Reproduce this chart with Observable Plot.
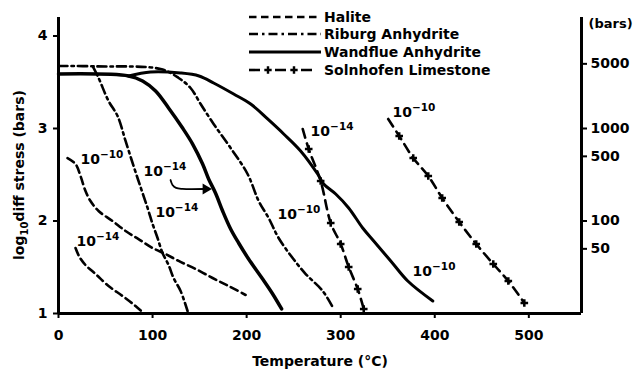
<!DOCTYPE html>
<html>
<head>
<meta charset="utf-8">
<script src="https://cdn.jsdelivr.net/npm/d3@7"></script>
<script src="https://cdn.jsdelivr.net/npm/@observablehq/plot@0.6"></script>
<style>
  html, body { margin: 0; padding: 0; background: #fff; }
  #chart { width: 635px; height: 371px; }
</style>
</head>
<body>
<div id="chart"></div>
<script>
// Flow-law curves: [temperature °C, log10 differential stress (bars)]
// Halite
const halite1e10 = [[9.6,2.68],[18.1,2.616],[23.4,2.486],[28.7,2.324],[34,2.216],[42.6,2.108],[57.4,2.0],[71.3,1.892],[85.1,1.805],[100,1.708],[113.8,1.643],[127.7,1.568],[145.7,1.481],[163.8,1.384],[180.9,1.297],[198.9,1.2]];
const halite1e14 = [[18.1,1.708],[22.3,1.611],[28.7,1.524],[39.4,1.427],[53.2,1.297],[68.1,1.189],[81.9,1.081],[90.4,1.005]];
// Riburg Anhydrite
const riburg1e10 = [[0,3.676],[40,3.672],[108.5,3.643],[127.7,3.546],[140.4,3.438],[151.1,3.265],[164.9,3.049],[183,2.789],[201,2.508],[212.8,2.216],[223.4,2.032],[234,1.816],[248.9,1.6],[262.8,1.427],[280.9,1.243],[292.6,1.049]];
const riburg1e14 = [[37,3.66],[42.6,3.546],[53.2,3.297],[62.8,3.135],[71.3,2.865],[79.8,2.595],[87.2,2.368],[94.7,2.141],[100,1.968],[105.3,1.816],[110.6,1.654],[117,1.524],[122.3,1.384],[129.8,1.243],[137.2,1.027]];
// Wandflue Anhydrite
const wandflue1e14 = [[0,3.589],[74.5,3.568],[89.4,3.514],[103.2,3.405],[117,3.222],[131.9,3.005],[142.6,2.832],[153.2,2.616],[159.6,2.454],[167,2.3],[174.5,2.108],[183,1.914],[191.5,1.762],[202.1,1.589],[217,1.373],[227.7,1.211],[237.2,1.049]];
const wandflue1e10 = [[74.5,3.568],[97.9,3.611],[129.8,3.6],[149.4,3.568],[164.9,3.492],[186.2,3.373],[204.3,3.265],[222.3,3.103],[239.4,2.941],[257.4,2.757],[275.5,2.508],[281.9,2.4],[294.7,2.292],[308.5,2.141],[323.4,1.924],[335.1,1.784],[353.2,1.568],[371.3,1.351],[397.9,1.135]];
// Solnhofen Limestone
const solnhofen1e14 = [[259.6,2.995],[266,2.778],[278.7,2.432],[289.4,1.978],[300,1.751],[308.5,1.503],[318.1,1.265],[324.5,1.049]];
const solnhofen1e10 = [[350.5,3.103],[362.2,2.919],[377.1,2.681],[393.1,2.486],[407.9,2.249],[426,1.989],[444.1,1.751],[462.2,1.535],[478.2,1.351],[495.2,1.114]];

// Strain-rate labels (s^-1) beside each curve
const rateLabelT = [23.4, 19.1, 103, 90.4, 232.8, 376.4, 268, 355];
const rateLabelL = [2.66, 1.78, 2.097, 2.53, 2.065, 1.449, 2.962, 3.178];
const rateLabelText = ["10^−10","10^−14","10^−14","10^−14","10^−10","10^−10","10^−14","10^−10"];
// Pointer from the Wandflue 10^-14 label to its curve
const pointerPath = [[119.1,2.443],[121.2,2.39],[125,2.358],[131.8,2.347],[155,2.346]];
const pointerHead = [[156.5,2.346]];

// Axes
const tempTicks = [0, 100, 200, 300, 400, 500];
const logTicks = [1, 2, 3, 4];
const barTicks = [50, 100, 500, 1000, 5000];
const tempDomain = [0, 556];
const logDomain = [1, 4.2];

const materials = ["Halite", "Riburg Anhydrite", "Wandflue Anhydrite", "Solnhofen Limestone"];

const styles = {
  "Halite": {strokeWidth: 2.6, strokeDasharray: "7.5,4.5"},
  "Riburg Anhydrite": {strokeWidth: 2.6, strokeDasharray: "9,4,2.5,4"},
  "Wandflue Anhydrite": {strokeWidth: 3.2},
  "Solnhofen Limestone": {strokeWidth: 2.6, strokeDasharray: "9,6"}
};

const curves = [
  ["Halite", halite1e10], ["Halite", halite1e14],
  ["Riburg Anhydrite", riburg1e10], ["Riburg Anhydrite", riburg1e14],
  ["Wandflue Anhydrite", wandflue1e14, 3.5], ["Wandflue Anhydrite", wandflue1e10, 3],
  ["Solnhofen Limestone", solnhofen1e14], ["Solnhofen Limestone", solnhofen1e10]
];

const labels = rateLabelT.map((T, i) => ({T, L: rateLabelL[i], text: rateLabelText[i]}));
const solnMarks = [...solnhofen1e14.slice(1), ...solnhofen1e10.slice(1)];

const chart = Plot.plot({
  width: 635,
  height: 371,
  marginLeft: 58,
  marginRight: 54,
  marginTop: 17,
  marginBottom: 58,
  style: {fontFamily: "DejaVu Sans", fontWeight: "bold", fontSize: "14px", color: "#000", background: "#fff"},
  x: {domain: tempDomain},
  y: {domain: logDomain},
  marks: [
    Plot.axisX(tempTicks, {tickSize: 5, tickPadding: 12, strokeWidth: 2, label: null, tickFormat: d => String(d)}),
    Plot.axisY(logTicks, {tickSize: 5, tickPadding: 6, strokeWidth: 2, label: null, tickFormat: d => String(d)}),
    Plot.axisY(barTicks.map(Math.log10), {anchor: "right", tickSize: 5, tickPadding: 4, strokeWidth: 2,
      tickFormat: d => String(Math.round(10 ** d)), label: null}),
    Plot.ruleX([tempDomain[0]], {strokeWidth: 3}),
    Plot.ruleX([tempDomain[1]], {strokeWidth: 3}),
    Plot.ruleY([logDomain[0]], {strokeWidth: 3}),
    ...curves.map(([m, pts, w]) => Plot.line(pts, {
      x: d => d[0], y: d => d[1], curve: "catmull-rom", stroke: "#000", ...styles[m], ...(w ? {strokeWidth: w} : {})
    })),
    Plot.dot(solnMarks, {x: d => d[0], y: d => d[1], symbol: "cross", r: 3.2, fill: "#000", stroke: null}),
    Plot.text(labels, {x: "T", y: "L", text: "text", textAnchor: "start"}),
    Plot.line(pointerPath, {x: d => d[0], y: d => d[1], curve: "catmull-rom", stroke: "#000", strokeWidth: 1.8}),
    Plot.dot(pointerHead, {x: d => d[0], y: d => d[1], symbol: "triangle", rotate: 90, r: 4, fill: "#000", stroke: null}),
    Plot.text(["(bars)"], {frameAnchor: "top-right", textAnchor: "start", dx: 7, dy: 1, fontSize: 13}),
    Plot.text(["Temperature (°C)"], {frameAnchor: "bottom", dy: 52})
  ]
});

document.getElementById("chart").appendChild(chart);

const svg = d3.select(chart);

// Raise the exponent in "10^−14"-style labels
svg.selectAll("text").each(function () {
  const s = this.textContent;
  const i = s.indexOf("^");
  if (i < 0) return;
  const t = d3.select(this).text(null);
  t.append("tspan").text(s.slice(0, i));
  t.append("tspan").attr("dy", "-6").attr("font-size", "10.5px").text(s.slice(i + 1));
});

// Rotated y-axis title with subscript
const ylab = svg.append("text")
  .attr("transform", "translate(19,175) rotate(-90)")
  .attr("text-anchor", "middle")
  .attr("dy", "0.35em");
ylab.append("tspan").text("log");
ylab.append("tspan").attr("dy", "4").attr("font-size", "10px").text("10");
ylab.append("tspan").attr("dy", "-4").text("diff stress (bars)");

// Line-style key
const key = svg.append("g").attr("transform", "translate(249,0)").attr("text-anchor", "start");
const rowY = [17, 34, 52, 70];
materials.forEach((m, i) => {
  const st = styles[m];
  const y = rowY[i];
  key.append("line")
    .attr("x1", 0).attr("x2", 72).attr("y1", y).attr("y2", y)
    .attr("stroke", "#000")
    .attr("stroke-width", st.strokeWidth)
    .attr("stroke-dasharray", m === "Solnhofen Limestone" ? "11,15" : (st.strokeDasharray || null));
  if (m === "Solnhofen Limestone") {
    [19, 45].forEach(x => key.append("path")
      .attr("transform", `translate(${x},${y})`)
      .attr("d", d3.symbol(d3.symbolCross, 30)()));
  }
  key.append("text").attr("x", 75).attr("y", y).attr("dy", "0.35em").attr("text-anchor", "start").text(m);
});
</script>
</body>
</html>
